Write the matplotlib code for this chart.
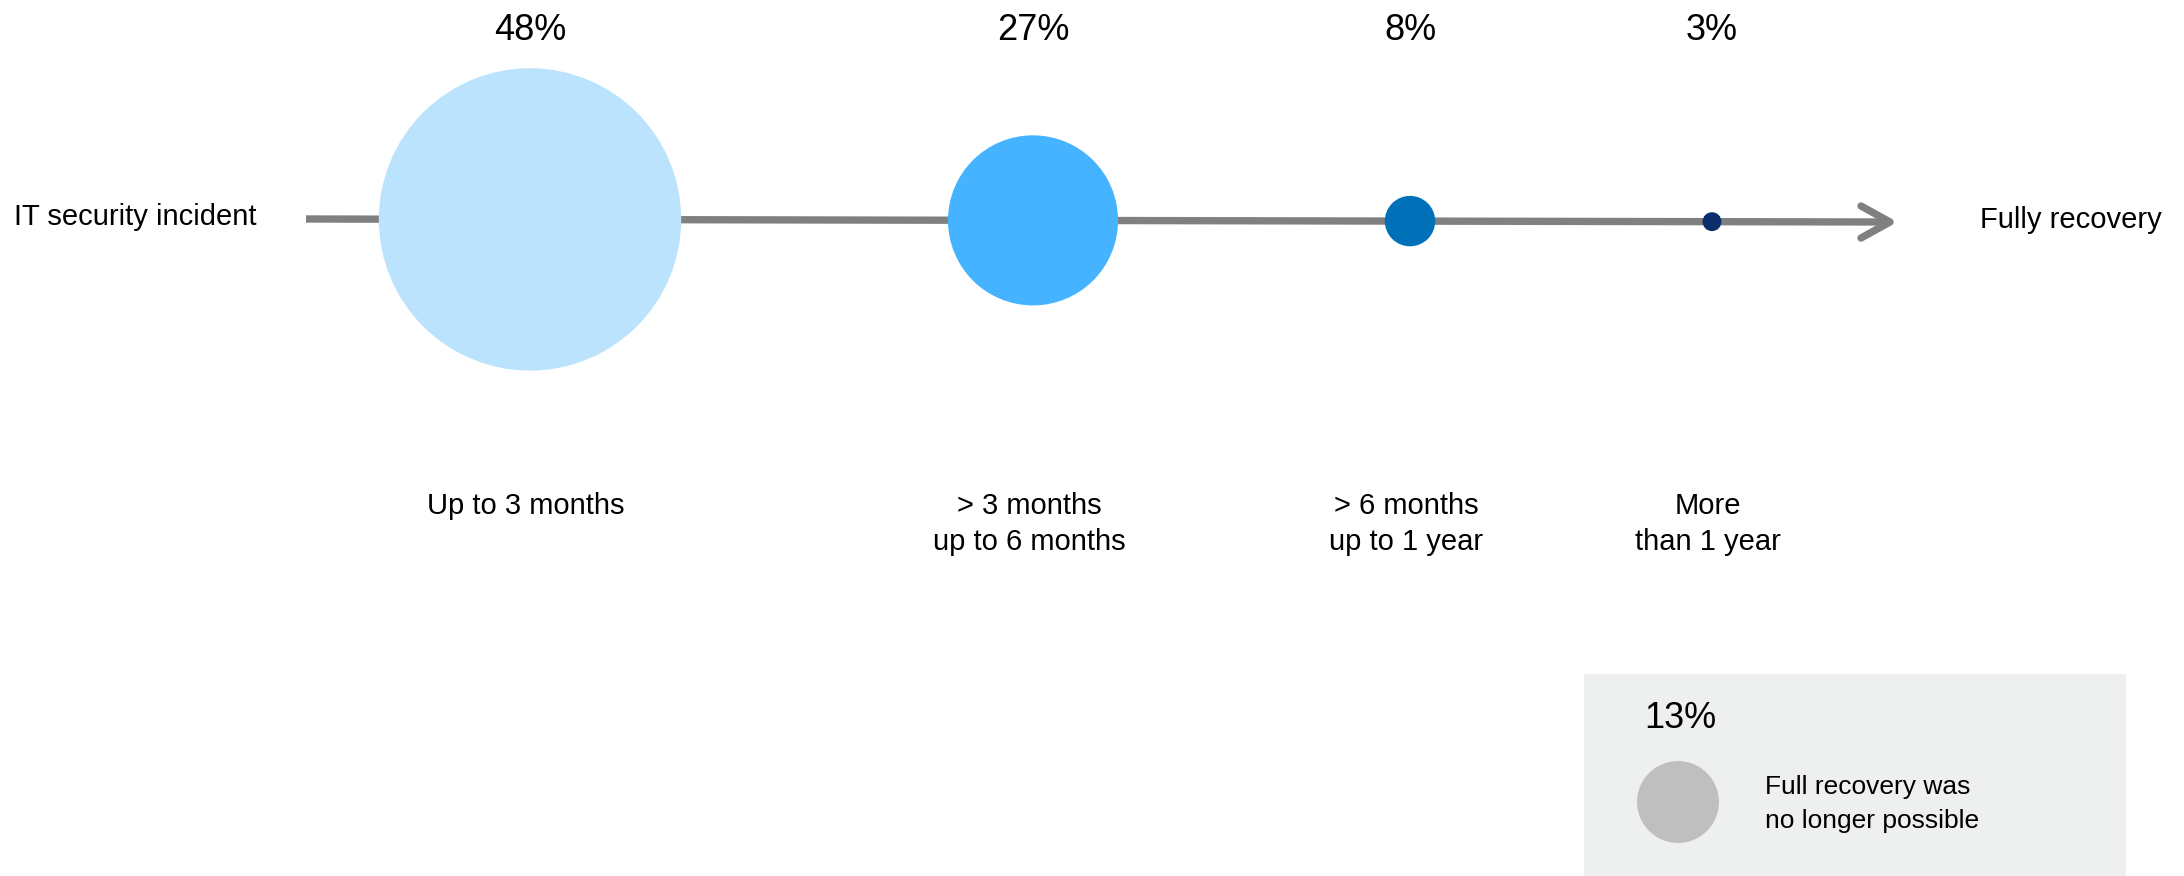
import matplotlib
matplotlib.use("Agg")
import matplotlib.pyplot as plt
from matplotlib.patches import Circle, Rectangle

plt.rcParams['font.family'] = ['Liberation Sans', 'DejaVu Sans']

# data
categories = ["Up to 3 months", "> 3 months\nup to 6 months", "> 6 months\nup to 1 year", "More\nthan 1 year"]
shares = [48, 27, 8, 3]
colors = ["#BBE3FD", "#45B3FF", "#0070B8", "#0B2D6B"]
no_recovery_share = 13
no_recovery_label = "Full recovery was\nno longer possible"
start_label = "IT security incident"
end_label = "Fully recovery"

# layout (pixel coordinates of a 2184x876 canvas)
W, H = 2184, 876
x_pos = [530, 1033, 1410, 1712]
px_per_pct = 3.15

fig = plt.figure(figsize=(W / 100, H / 100), dpi=100)
ax = fig.add_axes([0, 0, 1, 1])
ax.set_xlim(0, W)
ax.set_ylim(H, 0)
ax.set_aspect('equal')
ax.axis('off')

# timeline with open arrow head
x0, y0, x1, y1 = 306, 219, 1890, 222
line_y = lambda x: y0 + (y1 - y0) * (x - x0) / (x1 - x0)
ax.plot([x0, x1 - 4], [y0, y1], color="#808080", lw=5.3, solid_capstyle='butt', zorder=1)
ax.plot([x1 - 29, x1, x1 - 29], [y1 - 16, y1, y1 + 16], color="#808080", lw=5.3,
        solid_joinstyle='round', solid_capstyle='round', zorder=1)

for x, v, c, lab in zip(x_pos, shares, colors, categories):
    y = line_y(x)
    ax.add_patch(Circle((x, y), v * px_per_pct, color=c, lw=0, zorder=2))
    ax.text(x, 30, f"{v}%", ha='center', va='center', fontsize=26)
    ax.text(x - 4, 492, lab, ha='center', va='top', fontsize=21, linespacing=1.38)

ax.text(14, 217, start_label, ha='left', va='center', fontsize=21)
ax.text(2071, 220, end_label, ha='center', va='center', fontsize=21)

# box for "no longer possible"
ax.add_patch(Rectangle((1584, 674), 542, 210, color="#EEF0EF", lw=0, zorder=0))
ax.text(1680, 718, f"{no_recovery_share}%", ha='center', va='center', fontsize=26)
ax.add_patch(Circle((1678, 802), no_recovery_share * px_per_pct, color="#BFBFBF", lw=0, zorder=2))
ax.text(1765, 804, no_recovery_label, ha='left', va='center', fontsize=19, linespacing=1.55)

fig.savefig("out.png", dpi=100)
